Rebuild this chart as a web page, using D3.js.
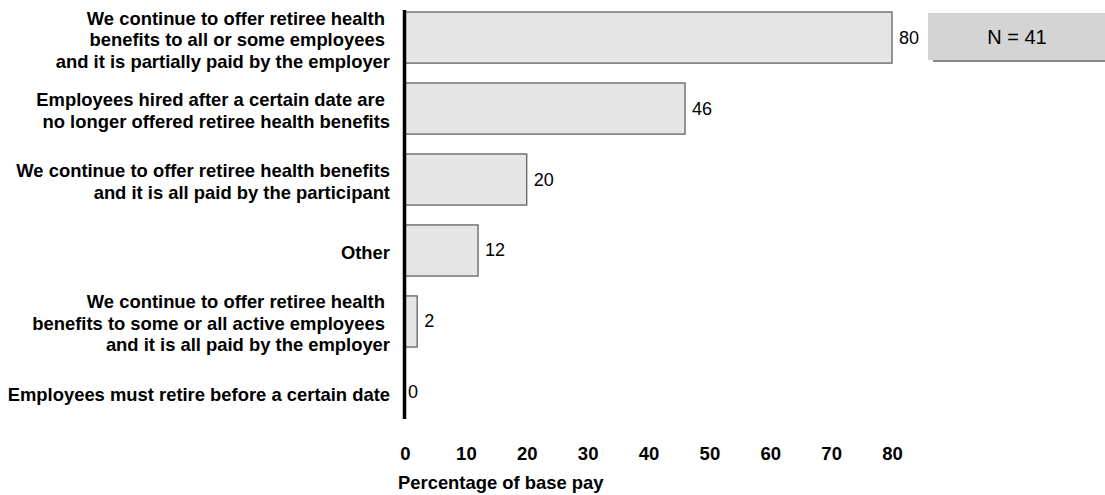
<!DOCTYPE html>
<html>
<head>
<meta charset="utf-8">
<script src="https://cdn.jsdelivr.net/npm/d3@7"></script>
<style>
  html, body { margin: 0; padding: 0; background: #fff; }
  svg { display: block; font-family: "Liberation Sans", Arial, Helvetica, sans-serif; }
  text { white-space: pre; }
</style>
</head>
<body>
<svg id="chart" width="1105" height="495"></svg>
<script>
const categories = [
  "We continue to offer retiree health |benefits to all or some employees |and it is partially paid by the employer",
  "Employees hired after a certain date are |no longer offered retiree health benefits",
  "We continue to offer retiree health benefits|and it is all paid by the participant",
  "Other",
  "We continue to offer retiree health |benefits to some or all active employees |and it is all paid by the employer",
  "Employees must retire before a certain date"
];
const values = [80, 46, 20, 12, 2, 0];
const tickValues = [0, 10, 20, 30, 40, 50, 60, 70, 80];
const axisTitle = "Percentage of base pay";
const noteText = "N = 41";

const svg = d3.select("#chart");
const FONT = "\"Liberation Sans\", Arial, Helvetica, sans-serif";

const x = d3.scaleLinear().domain([0, 80]).range([405, 892]);
const y = d3.scaleBand().domain(categories).range([12, 418]).paddingInner(0.28).paddingOuter(0);

// Bars
svg.append("g").selectAll("rect")
  .data(categories)
  .join("rect")
  .attr("x", x(0))
  .attr("y", d => y(d))
  .attr("width", (d, i) => Math.max(0, x(values[i]) - x(0)))
  .attr("height", y.bandwidth())
  .attr("fill", "#e6e6e6")
  .attr("stroke", "#555")
  .attr("stroke-width", 1.2);

// Vertical axis line
svg.append("line")
  .attr("x1", x(0) - 0.5).attr("x2", x(0) - 0.5)
  .attr("y1", 10).attr("y2", 419)
  .attr("stroke", "#000").attr("stroke-width", 3.5);

// Category labels
const lineH = 21.5;
const labels = svg.append("g").selectAll("text")
  .data(categories)
  .join("text")
  .attr("text-anchor", "end")
  .attr("font-weight", "bold")
  .attr("font-size", 18.4)
  .attr("fill", "#000");
labels.each(function (d) {
  const lines = d.split("|");
  const cy = y(d) + y.bandwidth() / 2;
  const t = d3.select(this);
  lines.forEach((ln, k) => {
    t.append("tspan")
      .attr("x", 390)
      .attr("y", cy + (k - (lines.length - 1) / 2) * lineH + 8.5)
      .text(ln);
  });
});

// Value labels
svg.append("g").selectAll("text")
  .data(categories)
  .join("text")
  .attr("x", (d, i) => x(values[i]) + (values[i] === 0 ? 3 : 7))
  .attr("y", d => y(d) + y.bandwidth() / 2 + 6)
  .attr("font-size", 18)
  .attr("fill", "#000")
  .text((d, i) => values[i]);

// X axis ticks
const xAxis = d3.axisBottom(x).tickValues(tickValues).tickSize(0).tickPadding(0);
const gx = svg.append("g").attr("transform", "translate(0,447)").call(xAxis);
gx.select(".domain").remove();
gx.selectAll("text")
  .attr("font-family", FONT)
  .attr("font-weight", "bold")
  .attr("font-size", 18.5)
  .attr("fill", "#000");

// Axis title
svg.append("text")
  .attr("x", 398)
  .attr("y", 489)
  .attr("font-weight", "bold")
  .attr("font-size", 18.4)
  .attr("fill", "#000")
  .text(axisTitle);

// N box
svg.append("rect")
  .attr("x", 933).attr("y", 59).attr("width", 180).attr("height", 3)
  .attr("fill", "#888");
svg.append("rect")
  .attr("x", 928).attr("y", 13).attr("width", 180).attr("height", 47)
  .attr("fill", "#d4d4d4");
svg.append("text")
  .attr("x", 1017).attr("y", 44)
  .attr("text-anchor", "middle")
  .attr("font-size", 20)
  .attr("fill", "#000")
  .text(noteText);
</script>
</body>
</html>
